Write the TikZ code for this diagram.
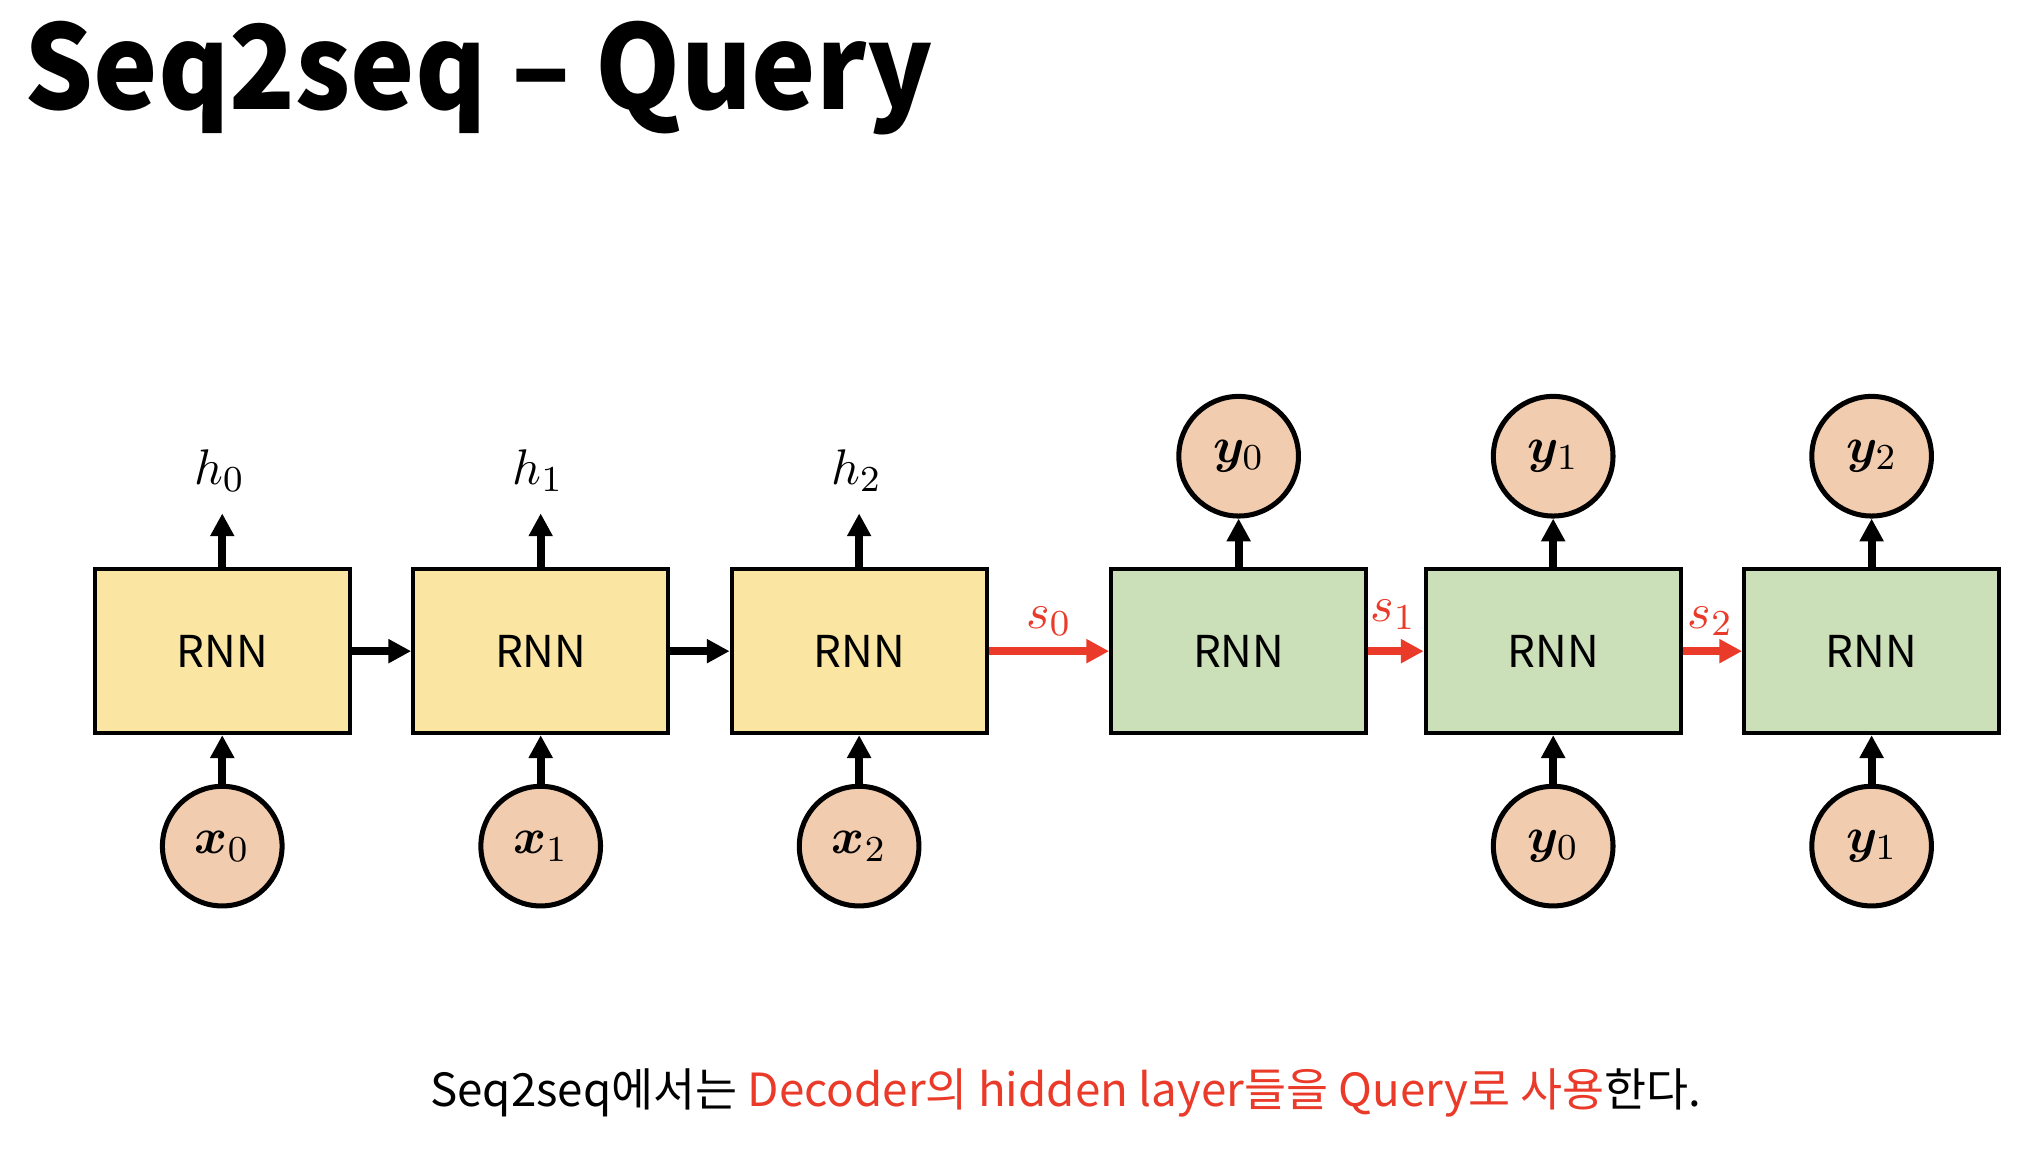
\documentclass[tikz,border=0pt]{standalone}
\usepackage{amsmath}
\usepackage{bm}
\usepackage{graphicx}
\usepackage{fontspec}
\setmainfont{Noto Sans CJK KR}
\usetikzlibrary{arrows.meta}

\definecolor{encfill}{HTML}{FAE6A2}
\definecolor{decfill}{HTML}{CBDFB8}
\definecolor{tokfill}{HTML}{F2CCAE}
\definecolor{qred}{HTML}{EA3B2A}

\tikzset{
  rnnenc/.style={draw, line width=0.9pt, fill=encfill, minimum width=1.96cm,
    minimum height=1.26cm, inner sep=0pt, font=\fontsize{9.6}{11}\selectfont},
  rnndec/.style={rnnenc, fill=decfill},
  token/.style={circle, draw, line width=1.1pt, fill=tokfill,
    minimum size=0.92cm, inner sep=0pt, font=\fontsize{11}{13}\selectfont},
  flow/.style={line width=1.8pt, -{Triangle[width=5pt,length=5pt]}},
  statearrow/.style={flow, draw=qred},
  hlabel/.style={inner sep=0pt, font=\fontsize{11}{13}\selectfont},
  slabel/.style={inner sep=0pt, text=qred, font=\fontsize{11}{13}\selectfont},
}

\begin{document}
\begin{tikzpicture}[x=0.01cm, y=-0.01cm]
  \useasboundingbox (0,0) rectangle (1568,894);

  % title
  \node[anchor=base west, inner sep=0pt, font=\fontsize{25.5}{30}\selectfont\bfseries]
    (title) at (18,84) {\scalebox{0.93}[1]{Seq2seq – Query}};

  % encoder cells
  \node[rnnenc] (e0) at (171,501) {RNN};
  \node[rnnenc] (e1) at (416,501) {RNN};
  \node[rnnenc] (e2) at (661,501) {RNN};

  % decoder cells
  \node[rnndec] (d0) at (953,501) {RNN};
  \node[rnndec] (d1) at (1195,501) {RNN};
  \node[rnndec] (d2) at (1440,501) {RNN};

  % encoder inputs
  \node[token] (x0) at (171,651) {$\bm{x}_0$};
  \node[token] (x1) at (416,651) {$\bm{x}_1$};
  \node[token] (x2) at (661,651) {$\bm{x}_2$};

  % decoder inputs
  \node[token] (yi0) at (1195,651) {$\bm{y}_0$};
  \node[token] (yi1) at (1440,651) {$\bm{y}_1$};

  % decoder outputs
  \node[token] (yo0) at (953,351) {$\bm{y}_0$};
  \node[token] (yo1) at (1195,351) {$\bm{y}_1$};
  \node[token] (yo2) at (1440,351) {$\bm{y}_2$};

  % encoder hidden states
  \coordinate (h0tip) at (171,395);
  \coordinate (h1tip) at (416,395);
  \coordinate (h2tip) at (661,395);
  \node[hlabel] (h0) at (169,362) {$h_0$};
  \node[hlabel] (h1) at (414,362) {$h_1$};
  \node[hlabel] (h2) at (659,362) {$h_2$};

  % input arrows
  \draw[flow] (x0) -- (e0);
  \draw[flow] (x1) -- (e1);
  \draw[flow] (x2) -- (e2);
  \draw[flow] (yi0) -- (d1);
  \draw[flow] (yi1) -- (d2);

  % output arrows
  \draw[flow] (e0) -- (h0tip);
  \draw[flow] (e1) -- (h1tip);
  \draw[flow] (e2) -- (h2tip);
  \draw[flow] (d0) -- (yo0);
  \draw[flow] (d1) -- (yo1);
  \draw[flow] (d2) -- (yo2);

  % recurrent connections
  \draw[flow] (e0) -- (e1);
  \draw[flow] (e1) -- (e2);
  \draw[statearrow] (e2) -- (d0);
  \draw[statearrow] (d0) -- (d1);
  \draw[statearrow] (d1) -- (d2);

  % decoder state labels
  \node[slabel] (s0) at (807,478) {$s_0$};
  \node[slabel] (s1) at (1072,473) {$s_1$};
  \node[slabel] (s2) at (1316,478) {$s_2$};

  % caption
  \node[anchor=base, inner sep=0pt, font=\fontsize{10}{12}\selectfont]
    (caption) at (820,851)
    {Seq2seq에서는 \textcolor{qred}{Decoder의 hidden layer들을 Query로 사용}한다.};
\end{tikzpicture}
\end{document}
